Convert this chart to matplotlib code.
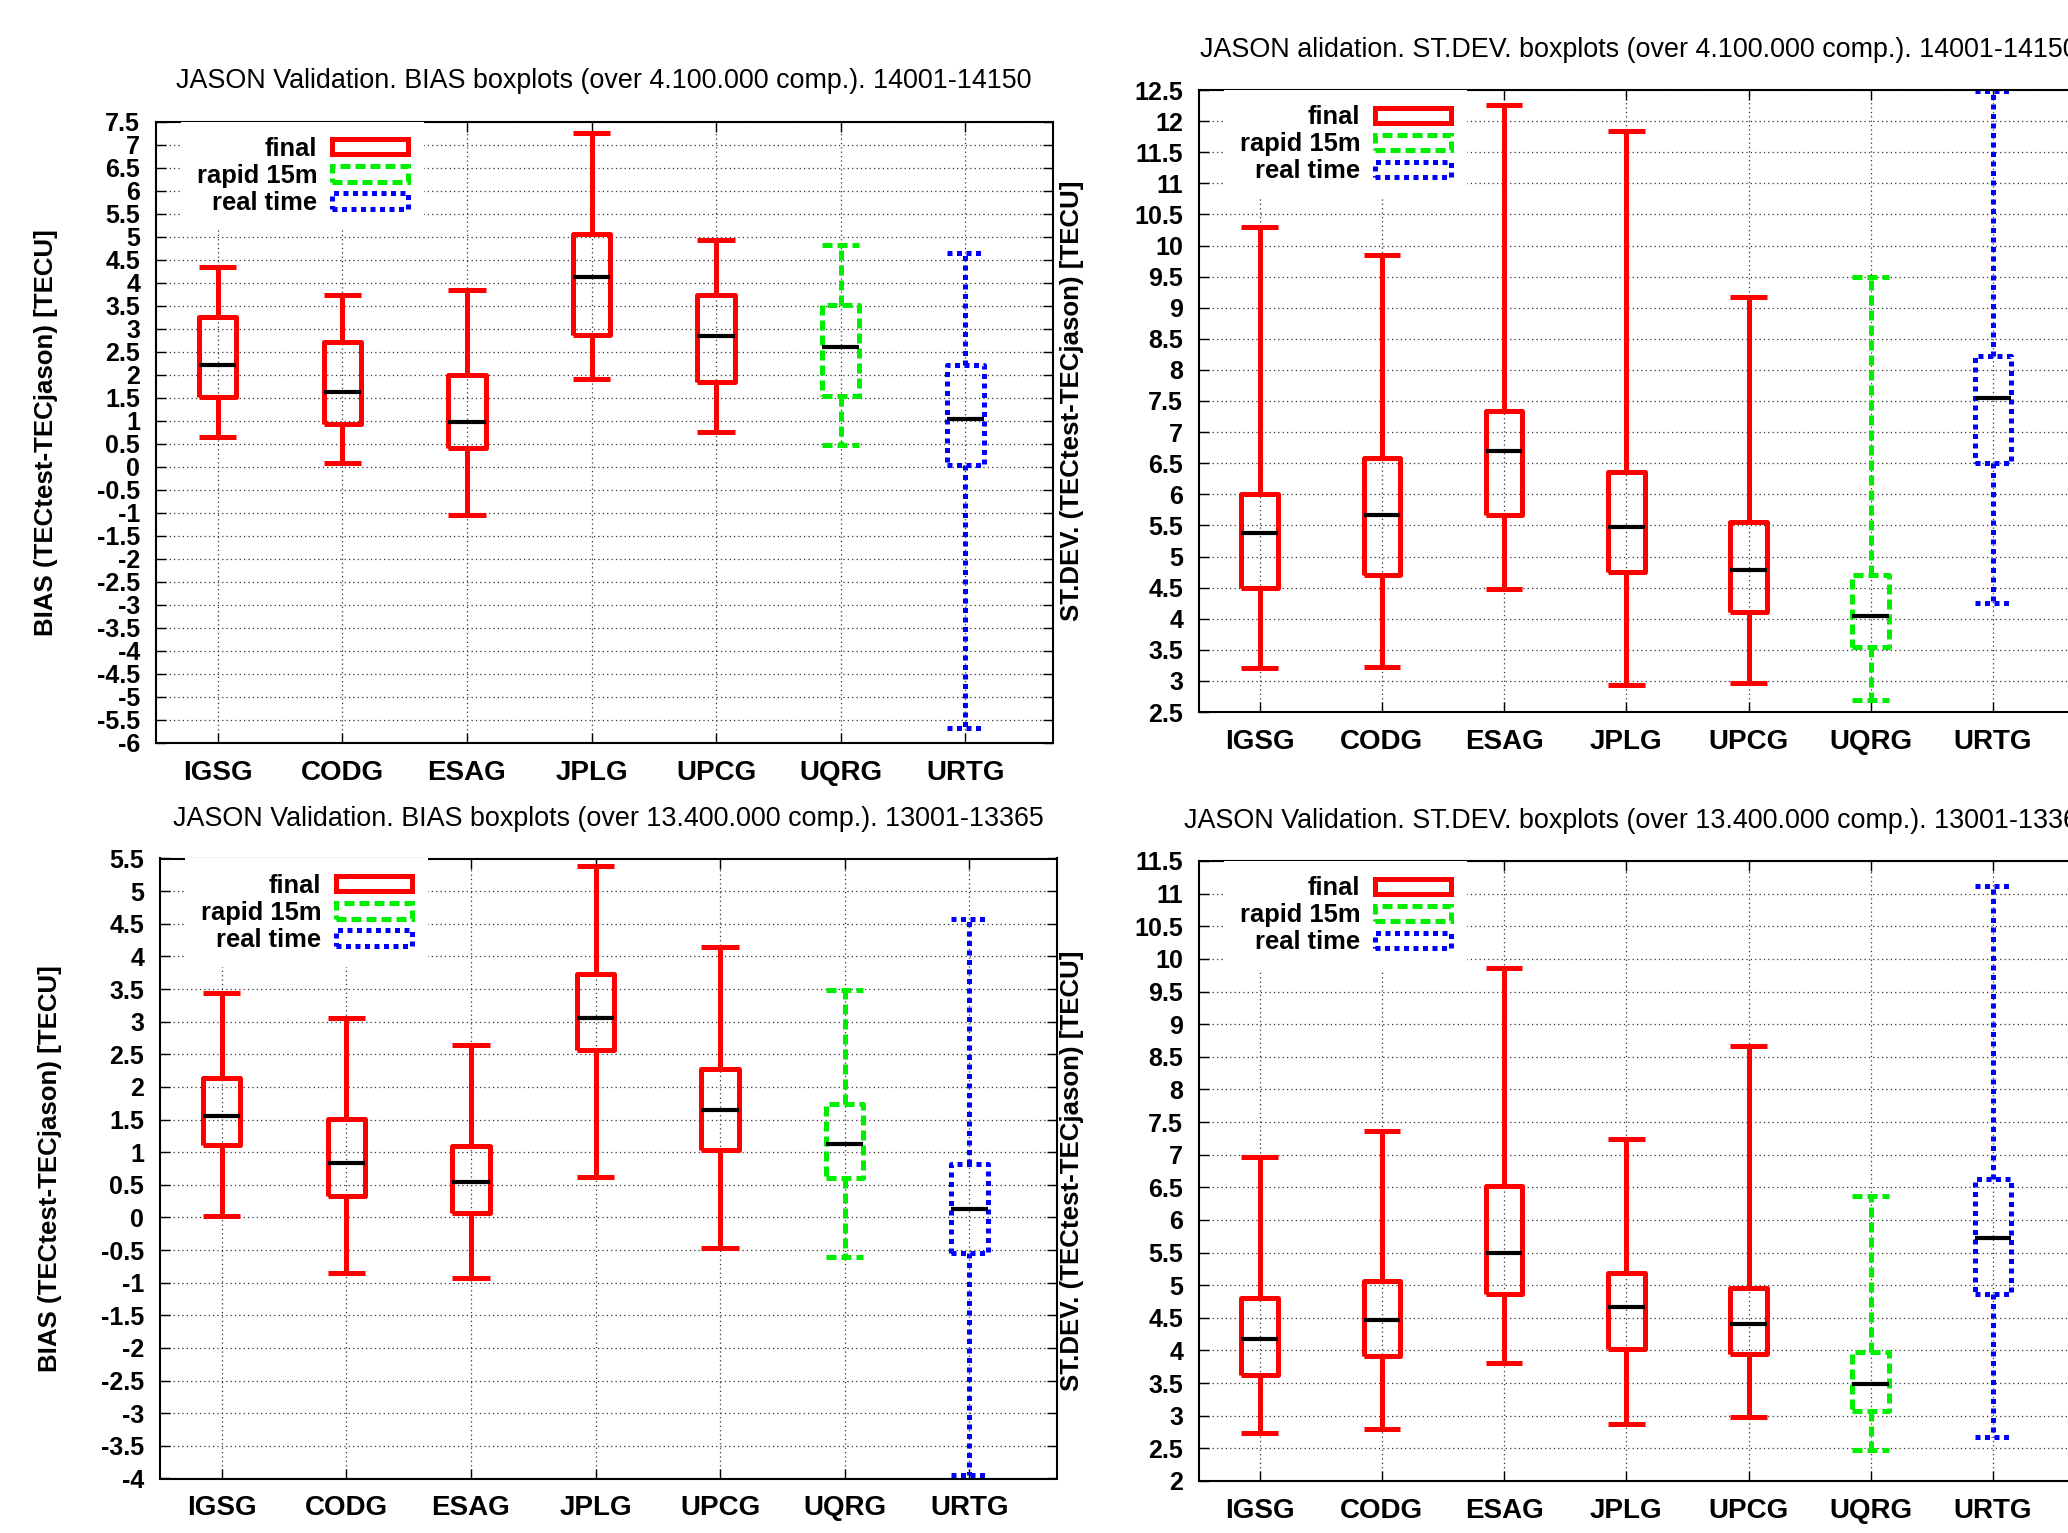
import matplotlib
matplotlib.use("Agg")
import matplotlib.pyplot as plt
from matplotlib.patches import Patch

plt.rcParams['font.family'] = ['Liberation Sans', 'DejaVu Sans']

centros = ["IGSG", "CODG", "ESAG", "JPLG", "UPCG", "UQRG", "URTG"]
tipos = ["final", "final", "final", "final", "final", "rapid", "rt"]
leyenda = ["final", "rapid 15m", "real time"]

# BIAS 14001-14150
b14_lo = [0.65, 0.08, -1.05, 1.91, 0.76, 0.48, -5.68]
b14_q1 = [1.52, 0.94, 0.41, 2.87, 1.84, 1.54, 0.03]
b14_me = [2.22, 1.62, 0.97, 4.13, 2.83, 2.61, 1.04]
b14_q3 = [3.26, 2.71, 2.00, 5.06, 3.73, 3.51, 2.22]
b14_hi = [4.33, 3.74, 3.84, 7.26, 4.92, 4.82, 4.64]

# ST.DEV. 14001-14150
s14_lo = [3.20, 3.22, 4.48, 2.94, 2.96, 2.70, 4.25]
s14_q1 = [4.50, 4.70, 5.67, 4.75, 4.10, 3.54, 6.51]
s14_me = [5.38, 5.67, 6.69, 5.47, 4.79, 4.05, 7.55]
s14_q3 = [6.01, 6.59, 7.34, 6.36, 5.55, 4.71, 8.22]
s14_hi = [10.30, 9.84, 12.26, 11.84, 9.18, 9.49, 12.48]

# BIAS 13001-13365
b13_lo = [0.02, -0.85, -0.93, 0.62, -0.47, -0.60, -3.95]
b13_q1 = [1.11, 0.33, 0.07, 2.57, 1.03, 0.61, -0.54]
b13_me = [1.55, 0.83, 0.55, 3.06, 1.64, 1.12, 0.13]
b13_q3 = [2.14, 1.51, 1.09, 3.73, 2.28, 1.74, 0.82]
b13_hi = [3.44, 3.06, 2.65, 5.39, 4.15, 3.49, 4.58]

# ST.DEV. 13001-13365
s13_lo = [2.74, 2.79, 3.81, 2.88, 2.98, 2.48, 2.68]
s13_q1 = [3.63, 3.91, 4.86, 4.03, 3.95, 3.08, 4.87]
s13_me = [4.17, 4.47, 5.50, 4.66, 4.40, 3.48, 5.72]
s13_q3 = [4.80, 5.07, 6.52, 5.18, 4.95, 3.98, 6.63]
s13_hi = [6.96, 7.36, 9.86, 7.24, 8.66, 6.36, 11.12]

W, H = 2068, 1533
LW = 3.6
estilos = {
    "final": ("#ff0000", "-"),
    "rapid": ("#00ee00", (0, (2, 1))),
    "rt": ("#0000ff", (0, (1, 0.9))),
}


def panel(caja, titulo, ylab, ylab_x, ymin, ymax, lo, q1, me, q3, hi):
    left, top, right, bottom = caja
    ax = fig.add_axes([left / W, 1 - bottom / H, (right - left) / W, (bottom - top) / H])
    ancho = right - left
    alto = bottom - top

    for t in ["final", "rapid", "rt"]:
        idx = [i for i in range(len(centros)) if tipos[i] == t]
        stats = [dict(whislo=lo[i], q1=q1[i], med=me[i], q3=q3[i], whishi=hi[i], fliers=[]) for i in idx]
        c, ls = estilos[t]
        lp = dict(color=c, linewidth=LW, linestyle=ls, solid_capstyle='butt', dash_capstyle='butt')
        ax.bxp(stats, positions=[i + 1 for i in idx], widths=0.3, capwidths=0.3,
               showfliers=False, boxprops=lp, whiskerprops=lp, capprops=lp,
               medianprops=dict(color='black', linewidth=3.0, solid_capstyle='butt'),
               manage_ticks=False)

    ax.set_xlim(0.5, 7.7)
    ax.set_ylim(ymin, ymax)
    ax.set_xticks(range(1, len(centros) + 1))
    ax.set_xticklabels(centros)
    yt = [ymin + 0.5 * k for k in range(int(round((ymax - ymin) / 0.5)) + 1)]
    ax.set_yticks(yt)
    ax.set_yticklabels([f"{v:g}" for v in yt])
    ax.tick_params(direction='in', length=7, width=1.0, top=True, right=True)
    ax.tick_params(axis='x', labelsize=20, pad=12)
    ax.tick_params(axis='y', labelsize=18, pad=11)
    for lab in ax.get_xticklabels() + ax.get_yticklabels():
        lab.set_fontweight('bold')
    for s in ax.spines.values():
        s.set_linewidth(1.5)
    ax.grid(True, linestyle=(0, (1, 2.5)), linewidth=0.9, color='#333333')
    ax.set_axisbelow(True)

    ax.text(0.5, 1 + 40 / alto, titulo, transform=ax.transAxes, ha='center', va='center', fontsize=19.4)
    fig.text(ylab_x / W, 1 - (top + bottom) / 2 / H, ylab, rotation=90, ha='center', va='center',
             fontsize=18.6, fontweight='bold')

    handles = []
    for t in ["final", "rapid", "rt"]:
        c, ls = estilos[t]
        handles.append(Patch(facecolor='none', edgecolor=c, linewidth=LW, linestyle=ls))
    ax.legend(handles, leyenda, loc='upper right', bbox_to_anchor=(268 / ancho, 1.0),
              markerfirst=False, frameon=True, facecolor='white', edgecolor='none', framealpha=1,
              fancybox=False, handlelength=3.0, handleheight=0.55, handletextpad=0.55,
              labelspacing=0.12, borderpad=0.6, borderaxespad=0,
              prop=dict(size=18.4, weight='bold'))
    return ax


fig = plt.figure(figsize=(W / 100, H / 100), dpi=100)

panel((155.5, 121.5, 1052.5, 743), "JASON Validation. BIAS boxplots (over 4.100.000 comp.). 14001-14150",
      "BIAS (TECtest-TECjason) [TECU]", 46, -6, 7.5, b14_lo, b14_q1, b14_me, b14_q3, b14_hi)
panel((1198.5, 90, 2078.5, 712), "JASON alidation. ST.DEV. boxplots (over 4.100.000 comp.). 14001-14150",
      "ST.DEV. (TECtest-TECjason) [TECU]", 1072, 2.5, 12.5, s14_lo, s14_q1, s14_me, s14_q3, s14_hi)
panel((159.5, 858.5, 1056.5, 1478.5), "JASON Validation. BIAS boxplots (over 13.400.000 comp.). 13001-13365",
      "BIAS (TECtest-TECjason) [TECU]", 50, -4, 5.5, b13_lo, b13_q1, b13_me, b13_q3, b13_hi)
panel((1198.5, 861, 2078.5, 1481), "JASON Validation. ST.DEV. boxplots (over 13.400.000 comp.). 13001-13365",
      "ST.DEV. (TECtest-TECjason) [TECU]", 1072, 2, 11.5, s13_lo, s13_q1, s13_me, s13_q3, s13_hi)

fig.savefig("out.png", dpi=100)
